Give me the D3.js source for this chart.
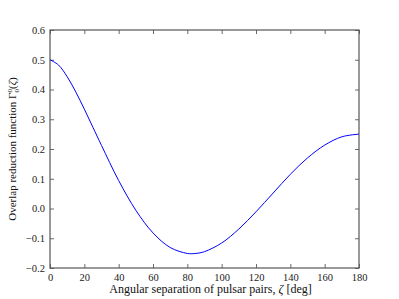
<!DOCTYPE html>
<html>
<head>
<meta charset="utf-8">
<script src="https://cdn.jsdelivr.net/npm/d3@7"></script>
<style>
  body { margin: 0; background: #fff; }
  svg { display: block; }
</style>
</head>
<body>
<div id="chart"></div>
<script>
// Giá trị (độ, hàm giảm chồng lấp)
const zetaDeg = [0, 5, 10, 15, 20, 25, 30, 40, 50, 60, 70, 80, 85, 90, 100, 110, 120, 130, 140, 150, 160, 170, 180];
const gammaVals = [0.500, 0.482, 0.443, 0.392, 0.334, 0.273, 0.212, 0.094, -0.006, -0.082, -0.131, -0.151, -0.151, -0.145, -0.116, -0.069, -0.011, 0.052, 0.115, 0.170, 0.213, 0.241, 0.250];
const xTicks = [0, 20, 40, 60, 80, 100, 120, 140, 160, 180];
const yTicks = [-0.2, -0.1, 0.0, 0.1, 0.2, 0.3, 0.4, 0.5, 0.6];

const W = 399, H = 299;
const margin = { top: 30, right: 40, bottom: 31, left: 50 };
const width = W - margin.left - margin.right;
const height = H - margin.top - margin.bottom;
const font = "'Liberation Serif', 'Times New Roman', serif";

const svg = d3.select("#chart").append("svg")
    .attr("width", W)
    .attr("height", H)
    .style("font-family", font);

const g = svg.append("g")
    .attr("transform", `translate(${margin.left},${margin.top})`);

const x = d3.scaleLinear().domain([0, 180]).range([0, width]);
const y = d3.scaleLinear().domain([-0.2, 0.6]).range([height, 0]);

const fmtY = d => d3.format(".1f")(d).replace("-", "\u2212");

// Trục: tick hướng vào trong, ở cả 4 cạnh
const axisStyle = sel => {
    sel.select(".domain").remove();
    sel.selectAll(".tick line").attr("stroke", "#444").attr("stroke-width", 0.8);
    sel.selectAll("text").attr("fill", "#222").style("font-size", "10.5px").style("font-family", font);
};

g.append("g")
    .attr("transform", `translate(0,${height})`)
    .call(d3.axisBottom(x).tickValues(xTicks).tickSizeInner(-4).tickSizeOuter(0).tickPadding(6))
    .call(axisStyle);

g.append("g")
    .call(d3.axisTop(x).tickValues(xTicks).tickSizeInner(-4).tickSizeOuter(0).tickFormat(""))
    .call(axisStyle);

g.append("g")
    .call(d3.axisLeft(y).tickValues(yTicks).tickSizeInner(-4).tickSizeOuter(0).tickPadding(5).tickFormat(fmtY))
    .call(axisStyle);

g.append("g")
    .attr("transform", `translate(${width},0)`)
    .call(d3.axisRight(y).tickValues(yTicks).tickSizeInner(-4).tickSizeOuter(0).tickFormat(""))
    .call(axisStyle);

// Khung
g.append("rect")
    .attr("width", width)
    .attr("height", height)
    .attr("fill", "none")
    .attr("stroke", "#555")
    .attr("stroke-width", 1.2);

// Đường cong
const data = zetaDeg.map((z, i) => ({ z, v: gammaVals[i] }));
const line = d3.line()
    .x(d => x(d.z))
    .y(d => y(d.v))
    .curve(d3.curveCatmullRom.alpha(0.5));

g.append("path")
    .datum(data)
    .attr("fill", "none")
    .attr("stroke", "#0000ff")
    .attr("stroke-width", 1)
    .attr("d", line);

// Nhãn trục x
const xl = svg.append("text")
    .attr("x", margin.left + width / 2 + 6)
    .attr("y", 293)
    .attr("text-anchor", "middle")
    .style("font-size", "12px")
    .attr("fill", "#111");
xl.append("tspan").text("Angular separation of pulsar pairs, ");
xl.append("tspan").style("font-style", "italic").text("\u03B6");
xl.append("tspan").text(" [deg]");

// Nhãn trục y
const yl = svg.append("text")
    .attr("transform", `translate(16,${margin.top + height / 2}) rotate(-90)`)
    .attr("text-anchor", "middle")
    .style("font-size", "11px")
    .attr("fill", "#111");
yl.append("tspan").text("Overlap reduction function \u0393");
yl.append("tspan").attr("dy", -4).style("font-size", "7px").text("0");
yl.append("tspan").attr("dx", -3.5).attr("dy", 7).style("font-size", "7px").text("0");
yl.append("tspan").attr("dy", -3).text("(");
yl.append("tspan").style("font-style", "italic").text("\u03B6");
yl.append("tspan").text(")");
</script>
</body>
</html>
